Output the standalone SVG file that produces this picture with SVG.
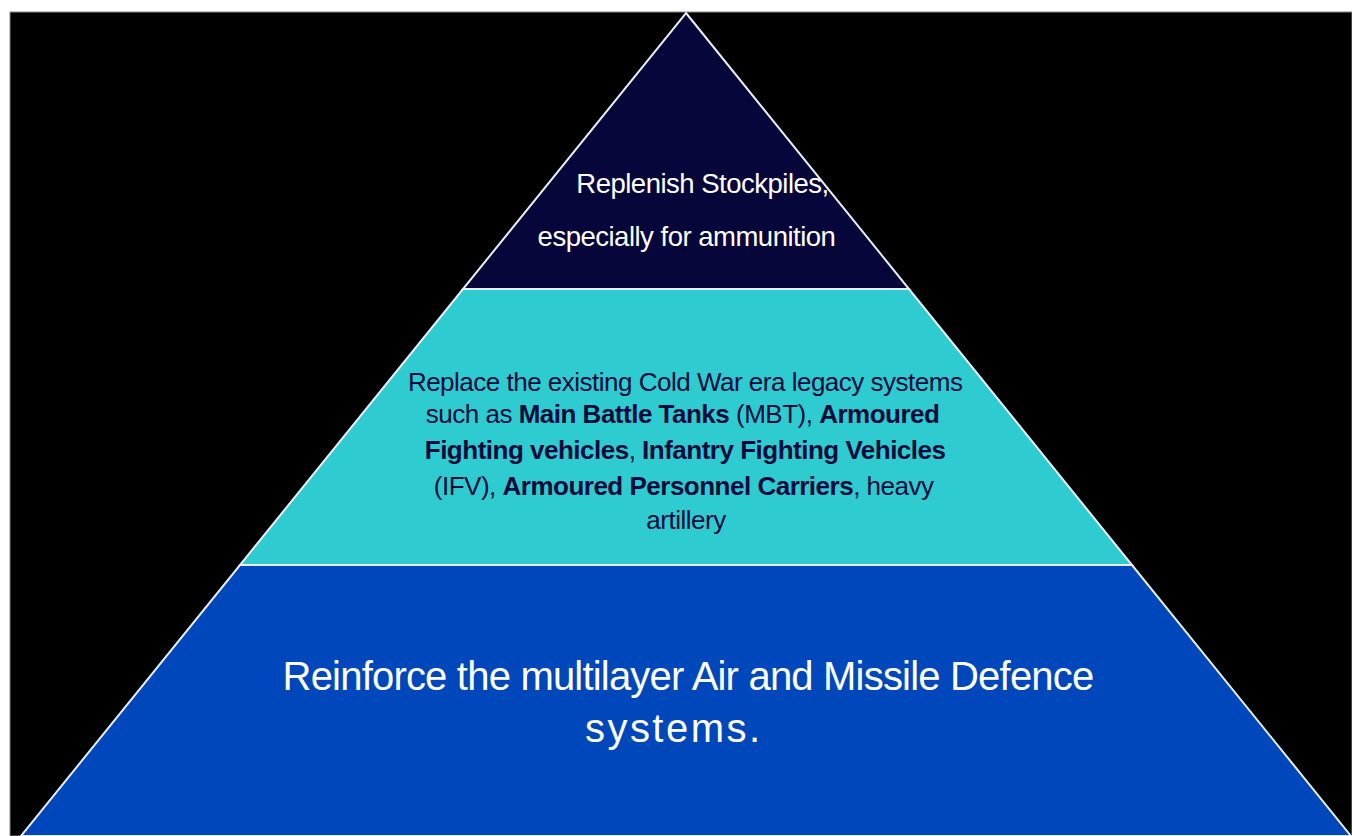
<svg xmlns="http://www.w3.org/2000/svg" width="1352" height="836" viewBox="0 0 1352 836">
<style>
.edge{stroke:#e8eef5;stroke-width:2;stroke-linejoin:miter}
.t{font-family:"Liberation Sans",Arial,sans-serif;text-anchor:middle}
.w{fill:#ffffff}
.d{fill:#0b0b3b}
.b{font-weight:bold}
</style>
<rect x="0" y="0" width="1352" height="836" fill="#ffffff"/>
<rect x="10" y="12" width="1342" height="824" fill="#000000" stroke="#8a8a8a" stroke-width="1"/>
<g id="tier-bottom">
<polygon points="240,565 1132,565 1351,836 21,836" fill="#0047bb" class="edge"/>
<text class="t w" font-size="40" letter-spacing="-0.8" x="688" y="690">Reinforce the multilayer Air and Missile Defence</text>
<text class="t w" font-size="40" x="672.5" y="742" textLength="175" lengthAdjust="spacing">systems.</text>
</g>
<g id="tier-middle">
<polygon points="463,289 909,289 1132,565 240,565" fill="#2ecbd1" class="edge"/>
<text class="t d" font-size="26" letter-spacing="-0.5">
<tspan x="688.5" y="391">Replace the existing Cold War era legacy systems</tspan>
<tspan x="686" y="423">such as <tspan class="b">Main Battle Tanks</tspan> (MBT), <tspan class="b">Armoured</tspan></tspan>
<tspan x="688.5" y="459"><tspan class="b">Fighting vehicles</tspan>, <tspan class="b">Infantry Fighting Vehicles</tspan></tspan>
<tspan x="687" y="495">(IFV), <tspan class="b">Armoured Personnel Carriers</tspan>, heavy</tspan>
<tspan x="686" y="529">artillery</tspan>
</text>
</g>
<g id="tier-top">
<polygon points="686,13 909,289 463,289" fill="#06063a" class="edge"/>
<text class="t w" font-size="27.5" letter-spacing="-0.5"><tspan x="702.5" y="193">Replenish Stockpiles,</tspan><tspan x="686.5" y="246">especially for ammunition</tspan></text>
</g>
</svg>
